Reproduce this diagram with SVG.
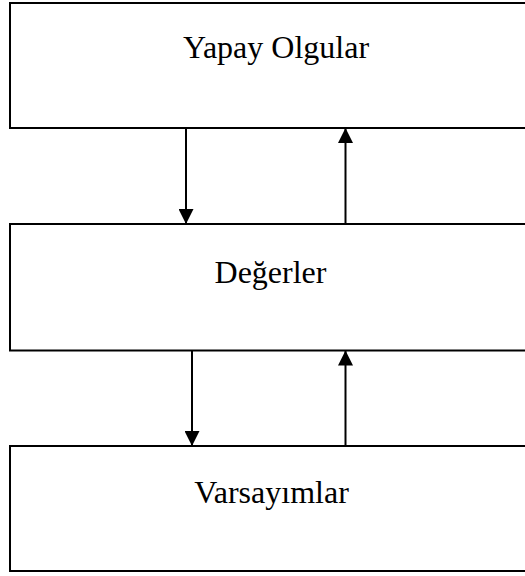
<svg xmlns="http://www.w3.org/2000/svg" width="525" height="576" viewBox="0 0 525 576">
  <style>
    .box { fill: #ffffff; stroke: #000000; stroke-width: 2; }
    .label { font-family: "Liberation Serif", "Times New Roman", serif; font-size: 32px; fill: #000000; text-anchor: middle; }
    .link { stroke: #000000; stroke-width: 2; fill: none; marker-end: url(#head); }
  </style>
  <defs>
    <marker id="head" viewBox="0 0 15 15" refX="15" refY="7.5" markerWidth="15" markerHeight="15" markerUnits="userSpaceOnUse" orient="auto">
      <path d="M0,0 L15,7.5 L0,15 Z" fill="#000000"/>
    </marker>
  </defs>
  <rect width="525" height="576" fill="#ffffff"/>

  <g id="yapay-olgular">
    <rect class="box" x="10" y="3" width="530" height="125"/>
    <text class="label" x="276" y="58" font-size="33">Yapay Olgular</text>
  </g>

  <g id="degerler">
    <rect class="box" x="10" y="224" width="530" height="126.5"/>
    <text class="label" x="270.5" y="283">Değerler</text>
  </g>

  <g id="varsayimlar">
    <rect class="box" x="10" y="446" width="530" height="125"/>
    <text class="label" x="271.5" y="502.5">Varsayımlar</text>
  </g>

  <g id="connectors">
    <line class="link" x1="186" y1="128" x2="186" y2="224"/>
    <line class="link" x1="345.5" y1="224" x2="345.5" y2="128"/>
    <line class="link" x1="192" y1="350.5" x2="192" y2="446"/>
    <line class="link" x1="345.5" y1="446" x2="345.5" y2="350.5"/>
  </g>
</svg>
